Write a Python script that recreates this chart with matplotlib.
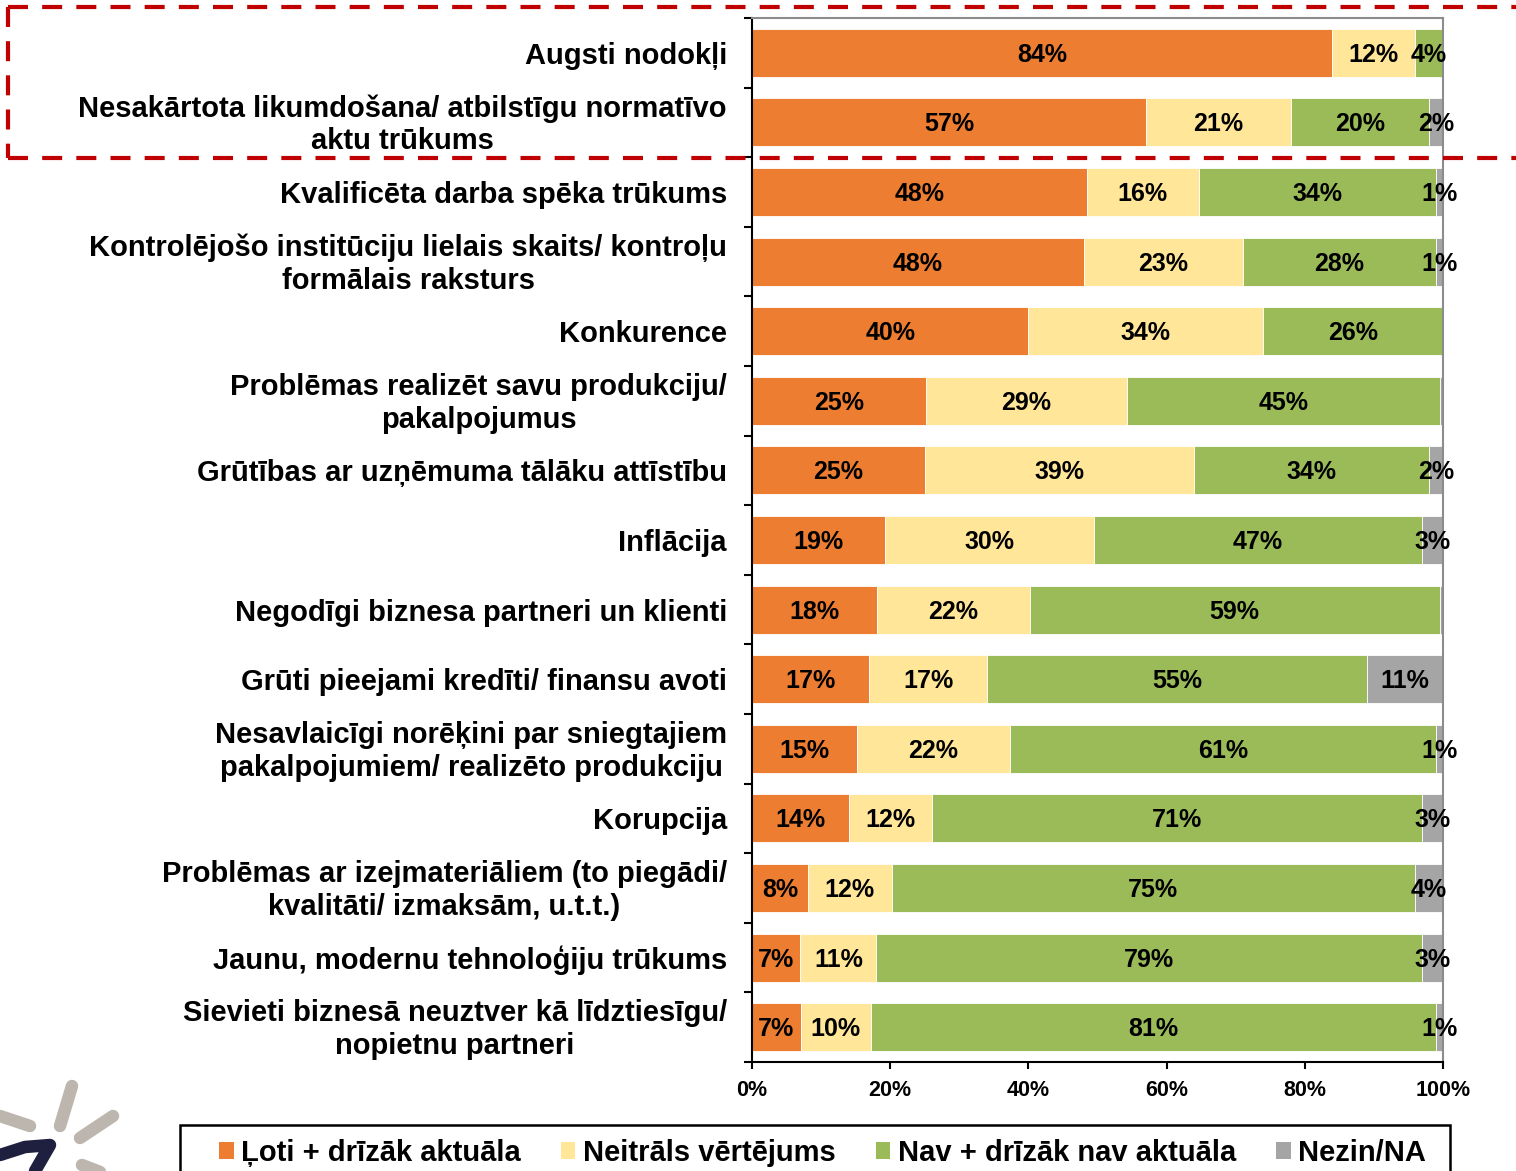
import matplotlib
matplotlib.use("Agg")
import matplotlib.pyplot as plt
from matplotlib.patches import Patch, Rectangle
from matplotlib.lines import Line2D
import numpy as np

plt.rcParams['font.family'] = ['Liberation Sans', 'DejaVu Sans']

categories = [
    "Augsti nodokļi",
    "Nesakārtota likumdošana/ atbilstīgu normatīvo\naktu trūkums",
    "Kvalificēta darba spēka trūkums",
    "Kontrolējošo institūciju lielais skaits/ kontroļu\nformālais raksturs",
    "Konkurence",
    "Problēmas realizēt savu produkciju/\npakalpojumus",
    "Grūtības ar uzņēmuma tālāku attīstību",
    "Inflācija",
    "Negodīgi biznesa partneri un klienti",
    "Grūti pieejami kredīti/ finansu avoti",
    "Nesavlaicīgi norēķini par sniegtajiem\npakalpojumiem/ realizēto produkciju",
    "Korupcija",
    "Problēmas ar izejmateriāliem (to piegādi/\nkvalitāti/ izmaksām, u.t.t.)",
    "Jaunu, modernu tehnoloģiju trūkums",
    "Sievieti biznesā neuztver kā līdztiesīgu/\nnopietnu partneri",
]

very_relevant = [84, 57, 48, 48, 40, 25, 25, 19, 18, 17, 15, 14, 8, 7, 7]
neutral       = [12, 21, 16, 23, 34, 29, 39, 30, 22, 17, 22, 12, 12, 11, 10]
not_relevant  = [4, 20, 34, 28, 26, 45, 34, 47, 59, 55, 61, 71, 75, 79, 81]
dont_know     = [0, 2, 1, 1, 0, 0.5, 2, 3, 0.5, 11, 1, 3, 4, 3, 1]

series_names = ["Ļoti + drīzāk aktuāla", "Neitrāls vērtējums",
                "Nav + drīzāk nav aktuāla", "Nezin/NA"]
colors = ["#ED7D31", "#FFE699", "#9BBB59", "#A5A5A5"]
xticks = [0, 20, 40, 60, 80, 100]

W, H = 1516, 1171
fig = plt.figure(figsize=(W / 100, H / 100), dpi=100)
ax = fig.add_axes([752 / W, 1 - 1062 / H, (1443 - 752) / W, (1062 - 18) / H])

series = [np.array(s, dtype=float) for s in
          (very_relevant, neutral, not_relevant, dont_know)]
totals = sum(series)  # 100% stacked: each row fills the axis

y = np.arange(len(categories))
left = np.zeros(len(categories))
for vals, col in zip(series, colors):
    share = vals / totals * 100
    ax.barh(y, share, left=left, height=0.69, color=col, edgecolor="white", linewidth=0.6)
    for yi, l, w, v in zip(y, left, share, vals):
        if v >= 1:
            ax.text(l + w / 2, yi + 0.03, f"{v:.0f}%", ha="center", va="center",
                    fontsize=18, fontweight="bold", color="black")
    left += share

ax.set_xlim(0, 100)
ax.set_ylim(len(categories) - 0.5, -0.5)
ax.set_xticks(xticks)
ax.set_xticklabels([f"{t}%" for t in xticks], fontsize=15.5, fontweight="bold")
ax.tick_params(axis="x", direction="out", length=5, width=1.5, pad=8)

ax.set_yticks(y)
ax.set_yticklabels(categories, fontsize=21, fontweight="bold", multialignment="center",
                   linespacing=1.22)
ax.tick_params(axis="y", which="major", length=0, pad=18)
ax.set_yticks(np.arange(-0.5, len(categories) + 0.5, 1), minor=True)
ax.tick_params(axis="y", which="minor", direction="out", length=6, width=1.5)
for lab, txt in zip(ax.get_yticklabels(), categories):
    if "\n" in txt:
        lab.set_y(lab.get_position()[1])
        lab.set_transform(lab.get_transform() +
                          matplotlib.transforms.ScaledTranslation(0, 3 / 100, fig.dpi_scale_trans))

for s in ["left", "bottom"]:
    ax.spines[s].set_color("black")
    ax.spines[s].set_linewidth(1.5)
for s in ["top", "right"]:
    ax.spines[s].set_color("#8C8C8C")
    ax.spines[s].set_linewidth(1.5)

def fx(px): return px / W
def fy(py): return 1 - py / H

# Legend (frame drawn separately, box runs off the bottom edge)
handles = [Patch(facecolor=c, edgecolor="none") for c in colors]
leg = fig.legend(handles, series_names, loc="upper left",
                 bbox_to_anchor=(fx(219), fy(1139)),
                 borderaxespad=0, borderpad=0, ncol=4,
                 prop={"size": 21, "weight": "bold"},
                 frameon=False, handlelength=0.5, handleheight=0.5,
                 handletextpad=0.25, columnspacing=1.38)
fig.add_artist(Rectangle((fx(180), fy(1200)), fx(1450) - fx(180), fy(1125) - fy(1200),
                         transform=fig.transFigure, facecolor="none",
                         edgecolor="black", linewidth=1.8))

# Red dashed highlight box
red = "#C00000"
ls = (0, (4.8, 3.4))
for xs, ys in [([8, 1516], [7, 7]), ([8, 1516], [158, 158]), ([8, 8], [7, 158])]:
    fig.add_artist(Line2D([fx(v) for v in xs], [fy(v) for v in ys], color=red,
                          linewidth=3, linestyle=ls, solid_capstyle="butt",
                          dash_capstyle="butt"))

# Partial logo in bottom-left corner
gray = "#BDB6AE"
for (x0, y0, x1, y1) in [(0, 1116, 30, 1126), (72, 1086, 60, 1126),
                         (113, 1116, 80, 1138), (82, 1165, 100, 1172)]:
    fig.add_artist(Line2D([fx(x0), fx(x1)], [fy(y0), fy(y1)], color=gray,
                          linewidth=9, solid_capstyle="round"))
fig.add_artist(Line2D([fx(0), fx(25), fx(50), fx(35)],
                      [fy(1155), fy(1147), fy(1145), fy(1171)],
                      color="#1F1F3F", linewidth=9, solid_capstyle="round"))

fig.savefig("out.png", dpi=100)
